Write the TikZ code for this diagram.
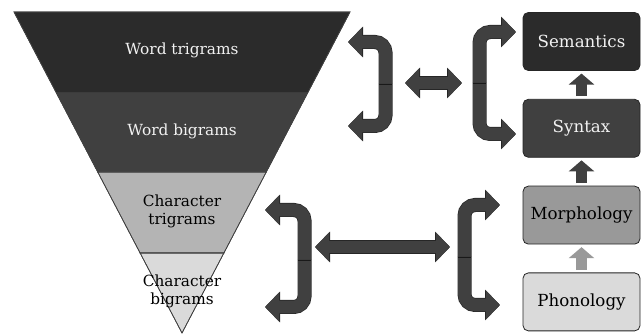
\documentclass[tikz,border=0pt]{standalone}
\usepackage{fontspec}
\setmainfont{DejaVu Serif}
\usetikzlibrary{arrows.meta, positioning}

\definecolor{darkA}{HTML}{2B2B2B}
\definecolor{darkB}{HTML}{404040}
\definecolor{midC}{HTML}{999999}
\definecolor{lightC}{HTML}{B4B4B4}
\definecolor{lightD}{HTML}{DADADA}
\definecolor{textW}{HTML}{F2F2F2}

\begin{document}
\begin{tikzpicture}[
    x=0.75pt, y=-0.75pt,
    every node/.style={font=\fontsize{11.5}{13.5}\selectfont, align=center},
    band/.style={draw=black!75, line width=0.5pt},
    layer/.style={rectangle, draw=black!85, rounded corners=4pt, line width=0.6pt, minimum width=87.75pt, minimum height=43.5pt, font=\fontsize{12.5}{14}\selectfont},
    uparrow/.style={line width=8.25pt, -{Triangle[width=18.75pt, length=8.25pt]}, shorten <=2pt, shorten >=2pt},
    bracket/.style={draw=darkB, line width=9.5pt, rounded corners=8pt, -{Triangle[width=21pt, length=10.5pt]},
        preaction={draw=black!85, line width=10.5pt, -{Triangle[width=22.5pt, length=11.25pt]}}},
    dblarrow/.style={draw=darkB, line width=9pt, {Triangle[width=21pt, length=10.5pt]}-{Triangle[width=21pt, length=10.5pt]},
        preaction={draw=black!85, line width=10pt, {Triangle[width=22.5pt, length=11.25pt]}-{Triangle[width=22.5pt, length=11.25pt]}}},
    divider/.style={draw=black!90, line width=0.6pt}
]
\useasboundingbox (0,0) rectangle (642,334);

% FUNNEL
\fill[band, fill=darkA] (14,12) -- (350,12) -- (307.6,93) -- (56.4,93) -- cycle;
\fill[band, fill=darkB] (56.4,93) -- (307.6,93) -- (266.3,172) -- (97.7,172) -- cycle;
\fill[band, fill=lightC] (97.7,172) -- (266.3,172) -- (223.9,253) -- (140.1,253) -- cycle;
\fill[band, fill=lightD] (140.1,253) -- (223.9,253) -- (182,333) -- cycle;
\draw[band] (14,12) -- (350,12) -- (307.6,93) -- (56.4,93) -- cycle;
\draw[band] (56.4,93) -- (307.6,93) -- (266.3,172) -- (97.7,172) -- cycle;
\draw[band] (97.7,172) -- (266.3,172) -- (223.9,253) -- (140.1,253) -- cycle;
\draw[band] (140.1,253) -- (223.9,253) -- (182,333) -- cycle;

\node[text=textW] (wordtri) at (182,50) {Word trigrams};
\node[text=textW] (wordbi) at (182,131) {Word bigrams};
\node (chartri) at (182,211) {Character\\trigrams};
\node (charbi) at (182,291) {Character\\bigrams};

% LEVELS
\node[layer, fill=darkA, text=textW] (semantics) at (581.5,41.5) {Semantics};
\node[layer, fill=darkB, text=textW, below=21pt of semantics] (syntax) {Syntax};
\node[layer, fill=midC, below=21pt of syntax] (morphology) {Morphology};
\node[layer, fill=lightD, below=21pt of morphology] (phonology) {Phonology};

\draw[uparrow, darkB] (syntax) -- (semantics);
\draw[uparrow, darkB] (morphology) -- (syntax);
\draw[uparrow, midC] (phonology) -- (morphology);

% BRACKETS (word level)
\coordinate (wl) at (385.5,84);
\coordinate (wlT) at (348,42);
\coordinate (wlB) at (348,126);
\coordinate (wr) at (479.5,83);
\coordinate (wrT) at (516,32);
\coordinate (wrB) at (516,134);
\draw[bracket] (wl) |- (wlT);
\draw[bracket] (wl) |- (wlB);
\draw[bracket] (wr) |- (wrT);
\draw[bracket] (wr) |- (wrB);
\draw[divider] ([xshift=-5pt]wl) -- ([xshift=5pt]wl);
\draw[divider] ([xshift=-5pt]wr) -- ([xshift=5pt]wr);
\coordinate (wa) at (405,83);
\coordinate (wb) at (462,83);
\draw[dblarrow] (wa) -- (wb);

% BRACKETS (character level)
\coordinate (cl) at (304.5,260);
\coordinate (clT) at (265,210);
\coordinate (clB) at (265,307);
\coordinate (cr) at (464.5,257);
\coordinate (crT) at (500,205);
\coordinate (crB) at (500,305);
\draw[bracket] (cl) |- (clT);
\draw[bracket] (cl) |- (clB);
\draw[bracket] (cr) |- (crT);
\draw[bracket] (cr) |- (crB);
\draw[divider] ([xshift=-5pt]cl) -- ([xshift=5pt]cl);
\draw[divider] ([xshift=-5pt]cr) -- ([xshift=5pt]cr);
\coordinate (ca) at (315,247);
\coordinate (cb) at (450,247);
\draw[dblarrow] (ca) -- (cb);

\end{tikzpicture}
\end{document}
